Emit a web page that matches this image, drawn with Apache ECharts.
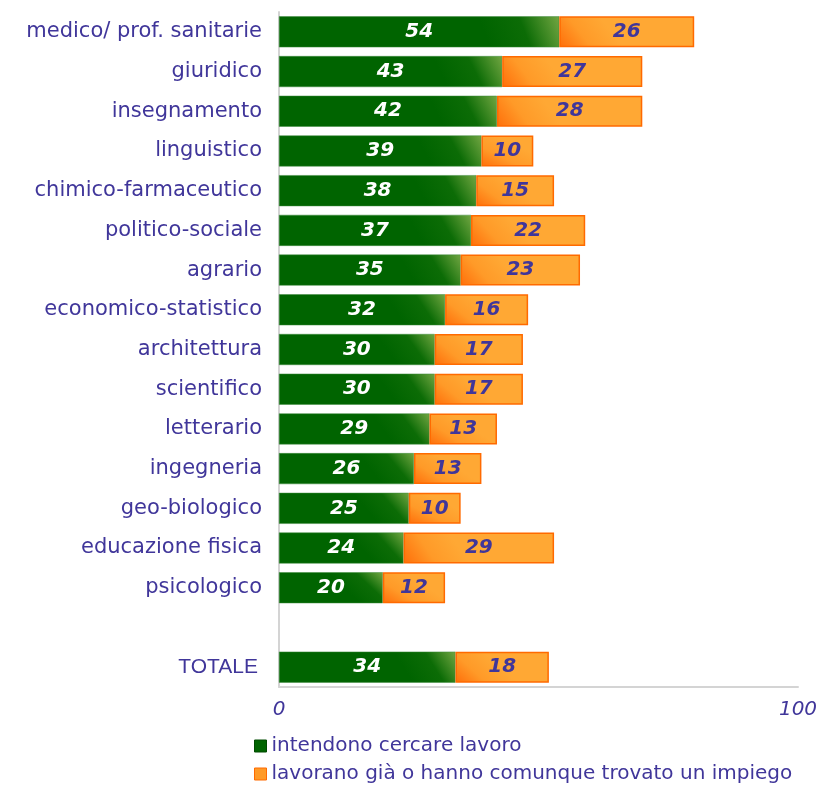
<!DOCTYPE html>
<html><head><meta charset="utf-8">
<script src="https://cdn.jsdelivr.net/npm/echarts@6/dist/echarts.min.js"></script>
<style>html,body{margin:0;padding:0;background:#fff}#c{width:825px;height:785px}</style>
</head><body><div id="c"></div>
<script>
const categories = ['medico/ prof. sanitarie','giuridico','insegnamento','linguistico','chimico-farmaceutico','politico-sociale','agrario','economico-statistico','architettura','scientifico','letterario','ingegneria','geo-biologico','educazione fisica','psicologico','','TOTALE'];
const cercare = [54,43,42,39,38,37,35,32,30,30,29,26,25,24,20,'-',34];
const lavorano = [26,27,28,10,15,22,23,16,17,17,13,13,10,29,12,'-',18];
const seriesNames = ['intendono cercare lavoro','lavorano già o hanno comunque trovato un impiego'];
const xTicks = [0,100];

const purple = '#40369a';
const greenGrad = new echarts.graphic.LinearGradient(0.75,0.9,1,0,[
  {offset:0,color:'#006400'},{offset:0.5,color:'#0c6c06'},{offset:1,color:'#72a642'}]);
const orangeGrad = new echarts.graphic.LinearGradient(0,1,0.3,0,[
  {offset:0,color:'#ff6e0a'},{offset:0.5,color:'#ff9a28'},{offset:1,color:'#ffa834'}]);

const chart = echarts.init(document.getElementById('c'));
const legendBase = {orient:'vertical',left:249,itemWidth:12,itemHeight:12,icon:'rect',
  textStyle:{color:purple,fontSize:20,fontFamily:'DejaVu Sans'}};
chart.setOption({
  animation:false,
  textStyle:{fontFamily:'DejaVu Sans'},
  grid:{left:279,right:27,top:12,bottom:98,containLabel:false},
  xAxis:{type:'value',min:xTicks[0],max:xTicks[1],interval:100,
    axisLine:{show:true,lineStyle:{color:'#d4d4d4',width:2}},
    axisTick:{show:false},splitLine:{show:false},
    axisLabel:{color:purple,fontStyle:'italic',fontSize:20,margin:13,fontFamily:'DejaVu Sans'}},
  yAxis:{type:'category',data:categories,inverse:true,
    axisLine:{show:true,lineStyle:{color:'#d4d4d4',width:2}},
    axisTick:{show:false},
    axisLabel:{color:purple,fontSize:21,margin:17,
      formatter:v=>v==='TOTALE'?'{t|'+v+'}':v,
      rich:{t:{fontFamily:'Liberation Sans',fontSize:21,color:purple,padding:[0,4,0,0]}}}},
  legend:[
    Object.assign({},legendBase,{top:731,data:[{name:seriesNames[0],itemStyle:{color:'#006400',borderColor:'#004a00',borderWidth:1}}]}),
    Object.assign({},legendBase,{top:759,data:[{name:seriesNames[1],itemStyle:{color:'#ff9a28',borderColor:'#ff6a00',borderWidth:1}}]})
  ],
  series:[
    {name:seriesNames[0],type:'bar',stack:'s',data:cercare,barWidth:31,
      itemStyle:{color:greenGrad,borderColor:'#3f8a3f',borderWidth:0.5},
      label:{show:true,position:'inside',color:'#fff',fontStyle:'italic',fontWeight:'bold',fontSize:20,fontFamily:'DejaVu Sans'}},
    {name:seriesNames[1],type:'bar',stack:'s',data:lavorano,barWidth:31,
      itemStyle:{color:orangeGrad,borderColor:'#ff6a00',borderWidth:1.5},
      label:{show:true,position:'inside',color:purple,fontStyle:'italic',fontWeight:'bold',fontSize:20,fontFamily:'DejaVu Sans'}}
  ]
});
</script></body></html>
